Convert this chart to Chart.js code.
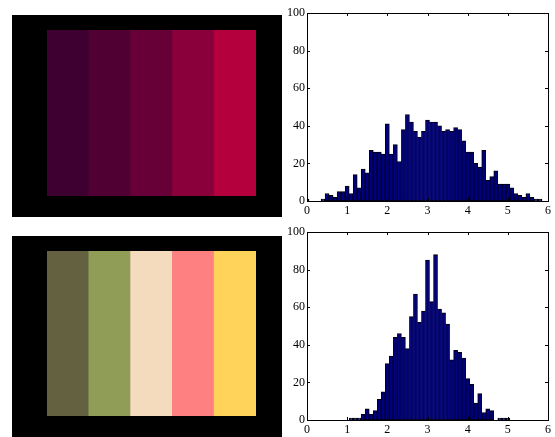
<!doctype html>
<html>

<head>
    <title>Palettes and histograms</title>
    <script src="https://cdn.jsdelivr.net/npm/chart.js@4.4.1/dist/chart.umd.min.js"></script>
    <style>
        body {
            margin: 0;
            background: #fff;
            width: 555px;
            height: 437px;
            position: relative;
            overflow: hidden;
        }

        .panel {
            position: absolute;
        }
    </style>
</head>

<body>
    <div class="panel" style="left:12px;top:15px;width:270px;height:202px"><canvas id="palTop"></canvas></div>
    <div class="panel" style="left:12px;top:236px;width:270px;height:201px"><canvas id="palBottom"></canvas></div>
    <div class="panel" style="left:283px;top:0px;width:272px;height:218px"><canvas id="histTop"></canvas></div>
    <div class="panel" style="left:283px;top:219px;width:272px;height:218px"><canvas id="histBottom"></canvas></div>
    <script>
        // palette swatches
        var stripes = ['1', '2', '3', '4', '5'];
        var stripeHeight = [1, 1, 1, 1, 1];
        var paletteTop = ['#3e0031', '#510034', '#670036', '#8a003b', '#b5003e'];
        var paletteBottom = ['#646141', '#8f9d56', '#f4dbbd', '#ff8080', '#ffd25a'];

        // histogram bins
        var binCenters = [
            0.0, 0.1, 0.2, 0.3, 0.4, 0.5, 0.6, 0.7, 0.8, 0.9,
            1.0, 1.1, 1.2, 1.3, 1.4, 1.5, 1.6, 1.7, 1.8, 1.9,
            2.0, 2.1, 2.2, 2.3, 2.4, 2.5, 2.6, 2.7, 2.8, 2.9,
            3.0, 3.1, 3.2, 3.3, 3.4, 3.5, 3.6, 3.7, 3.8, 3.9,
            4.0, 4.1, 4.2, 4.3, 4.4, 4.5, 4.6, 4.7, 4.8, 4.9,
            5.0, 5.1, 5.2, 5.3, 5.4, 5.5, 5.6, 5.7, 5.8, 5.9
        ];
        var countsTop = [
            1, 0, 0, 0, 1, 4, 3, 2, 5, 5,
            8, 4, 14, 7, 17, 15, 27, 26, 26, 25,
            41, 25, 30, 21, 38, 46, 42, 37, 34, 37,
            43, 42, 42, 40, 37, 38, 37, 39, 38, 32,
            26, 26, 20, 18, 27, 11, 13, 16, 9, 9,
            9, 7, 4, 3, 2, 4, 2, 1, 1, 0
        ];
        var countsBottom = [
            0, 0, 0, 0, 0, 0, 0, 0, 0, 0,
            0, 1, 1, 1, 3, 6, 3, 5, 11, 15,
            30, 34, 44, 46, 44, 38, 55, 67, 52, 58,
            85, 63, 88, 59, 57, 51, 32, 37, 36, 33,
            22, 19, 9, 14, 4, 6, 5, 0, 1, 1,
            1, 0, 0, 0, 0, 0, 0, 0, 0, 0
        ];
        var xTicks = [0, 1, 2, 3, 4, 5, 6];
        var yTicks = [0, 20, 40, 60, 80, 100];

        var blackBg = {
            id: 'blackBg',
            beforeDraw: function(chart) {
                var c = chart.ctx;
                c.save();
                c.fillStyle = '#000';
                c.fillRect(0, 0, chart.width, chart.height);
                c.restore();
            }
        };

        function palette(id, colors) {
            new Chart(document.getElementById(id), {
                type: 'bar',
                data: {
                    labels: stripes,
                    datasets: [{
                        data: stripeHeight,
                        backgroundColor: colors,
                        borderWidth: 0,
                        barPercentage: 1,
                        categoryPercentage: 1
                    }]
                },
                options: {
                    animation: false,
                    responsive: true,
                    maintainAspectRatio: false,
                    layout: { padding: { left: 35, right: 26, top: 15, bottom: 21 } },
                    plugins: { legend: { display: false }, tooltip: { enabled: false } },
                    scales: {
                        x: { display: false },
                        y: { display: false, min: 0, max: 1 }
                    }
                },
                plugins: [blackBg]
            });
        }

        // matlab-style box with inward ticks
        var boxTicks = {
            id: 'boxTicks',
            afterDraw: function(chart) {
                var a = chart.chartArea;
                var c = chart.ctx;
                var xs = chart.scales.x, ys = chart.scales.y;
                var len = 3;
                c.save();
                c.strokeStyle = '#000';
                c.lineWidth = 1;
                c.strokeRect(Math.round(a.left) + 0.5, Math.round(a.top) + 0.5,
                    Math.round(a.right - a.left), Math.round(a.bottom - a.top));
                c.beginPath();
                xTicks.forEach(function(t) {
                    var px = Math.round(xs.getPixelForValue(t)) + 0.5;
                    c.moveTo(px, a.bottom); c.lineTo(px, a.bottom - len);
                    c.moveTo(px, a.top); c.lineTo(px, a.top + len);
                });
                yTicks.forEach(function(t) {
                    var py = Math.round(ys.getPixelForValue(t)) + 0.5;
                    c.moveTo(a.left, py); c.lineTo(a.left + len, py);
                    c.moveTo(a.right, py); c.lineTo(a.right - len, py);
                });
                c.stroke();
                c.restore();
            }
        };

        function histogram(id, counts) {
            var pts = binCenters.map(function(x, i) { return { x: x, y: counts[i] }; });
            new Chart(document.getElementById(id), {
                type: 'bar',
                data: {
                    datasets: [{
                        data: pts,
                        backgroundColor: '#00007f',
                        borderColor: '#000',
                        borderWidth: 1,
                        borderSkipped: false,
                        barPercentage: 1,
                        categoryPercentage: 1,
                        clip: 0
                    }]
                },
                options: {
                    animation: false,
                    responsive: true,
                    maintainAspectRatio: false,
                    layout: { padding: { left: 0, right: 7, top: 13, bottom: 0 } },
                    plugins: { legend: { display: false }, tooltip: { enabled: false } },
                    scales: {
                        x: {
                            type: 'linear', min: 0, max: 6, offset: false,
                            grid: { display: false, drawTicks: false },
                            border: { display: false },
                            afterFit: function(s) { s.height = 17; },
                            afterBuildTicks: function(s) { s.ticks = xTicks.map(function(v) { return { value: v }; }); },
                            ticks: {
                                padding: 3, color: '#000', maxRotation: 0,
                                font: { family: 'Liberation Serif', size: 12 }
                            }
                        },
                        y: {
                            min: 0, max: 100,
                            grid: { display: false, drawTicks: false },
                            border: { display: false },
                            afterFit: function(s) { s.width = 24; },
                            afterBuildTicks: function(s) { s.ticks = yTicks.map(function(v) { return { value: v }; }); },
                            ticks: {
                                padding: 2, color: '#000',
                                font: { family: 'Liberation Serif', size: 12 }
                            }
                        }
                    }
                },
                plugins: [boxTicks]
            });
        }

        palette('palTop', paletteTop);
        palette('palBottom', paletteBottom);
        histogram('histTop', countsTop);
        histogram('histBottom', countsBottom);
    </script>
</body>

</html>
